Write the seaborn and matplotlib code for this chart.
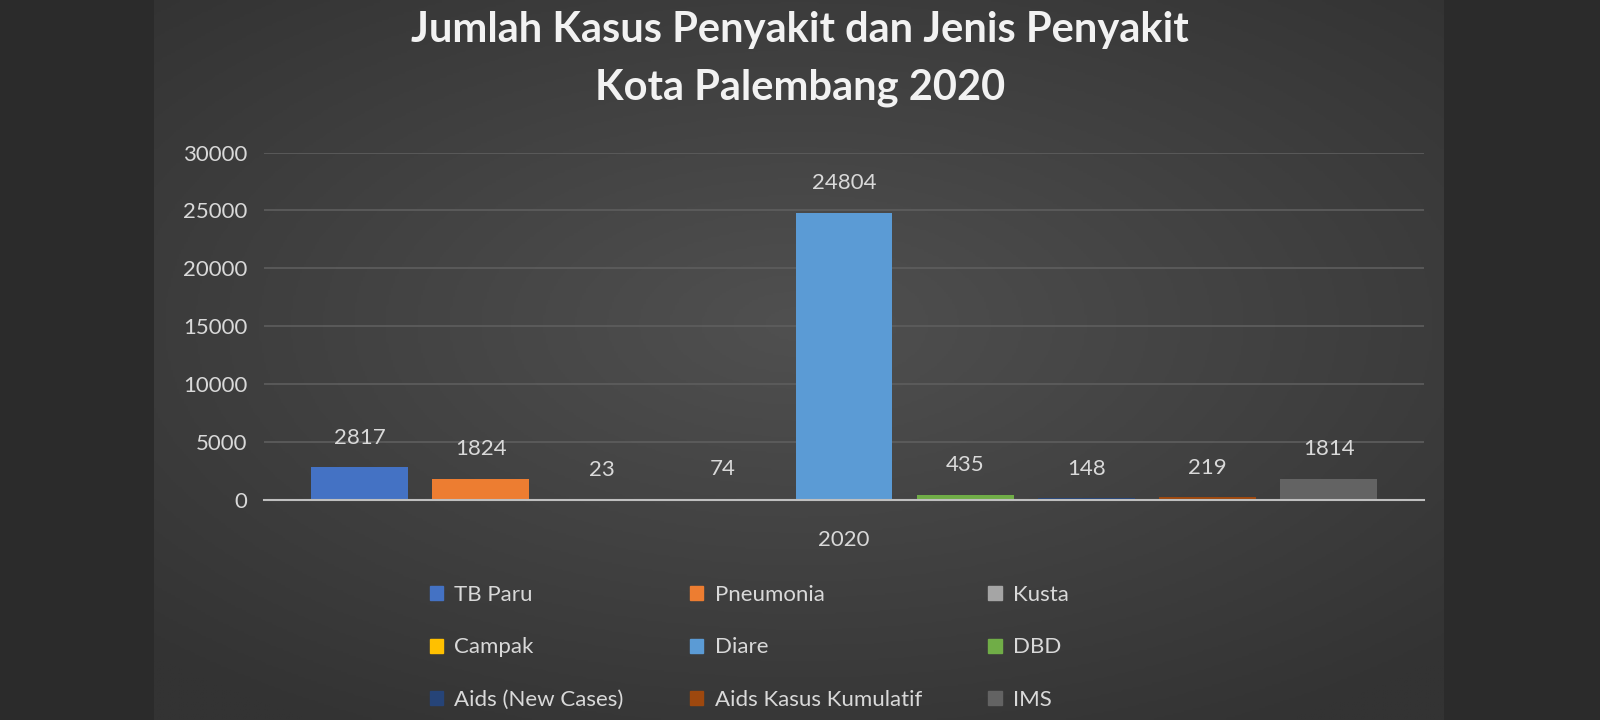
import numpy as np
import pandas as pd
import matplotlib.pyplot as plt
import seaborn as sns
from matplotlib.patches import Patch

penyakit = ['TB Paru', 'Pneumonia', 'Kusta', 'Campak', 'Diare', 'DBD',
            'Aids (New Cases)', 'Aids Kasus Kumulatif', 'IMS']
kasus = [2817, 1824, 23, 74, 24804, 435, 148, 219, 1814]
tahun = ['2020'] * len(penyakit)
warna = ['#4472C4', '#ED7D31', '#A5A5A5', '#FFC000', '#5B9BD5', '#70AD47',
         '#264478', '#9E480E', '#636363']

df = pd.DataFrame({'Tahun': tahun, 'Penyakit': penyakit, 'Kasus': kasus})

sns.set_theme(style='dark')
plt.rcParams['font.family'] = ['Lato', 'DejaVu Sans']

fig = plt.figure(figsize=(16, 7.2), dpi=100)
fig.patch.set_facecolor('#2b2b2b')

# background panel with radial gradient
bg = fig.add_axes([0.096, 0, 0.806, 1])
yy, xx = np.mgrid[-1:1:300j, -1:1:600j]
r = np.sqrt((xx / 1.1) ** 2 + ((yy + 0.1) / 1.0) ** 2)
bg.imshow(np.clip(r, 0, 1.3), cmap=sns.blend_palette(['#505050', '#333333'], as_cmap=True),
          aspect='auto', extent=[0, 1, 0, 1], vmin=0, vmax=1.3)
bg.axis('off')

ax = fig.add_axes([0.165, 0.306, 0.725, 0.482])
ax.set_facecolor('none')
sns.barplot(data=df, x='Tahun', y='Kasus', hue='Penyakit', palette=warna,
            width=0.94, gap=0.2, ax=ax, legend=False, saturation=1, linewidth=0)
for c in ax.containers:
    ax.bar_label(c, padding=14, color='#d9d9d9', fontsize=16)

ax.set_ylim(0, 30000)
ax.set_yticks(range(0, 30001, 5000))
ax.yaxis.grid(True, color='#5e5e5e', linewidth=1.2)
ax.xaxis.grid(False)
ax.set_axisbelow(True)
for s in ['top', 'right', 'left']:
    ax.spines[s].set_visible(False)
ax.spines['bottom'].set_color('#bfbfbf')
ax.spines['bottom'].set_linewidth(1.5)
ax.tick_params(colors='#d9d9d9', labelsize=16, length=0, pad=12)
ax.tick_params(axis='x', pad=22)
ax.set_xlabel('')
ax.set_ylabel('')

for y, t in [(0.958, 'Jumlah Kasus Penyakit dan Jenis Penyakit'),
             (0.878, 'Kota Palembang 2020')]:
    fig.text(0.5, y, t, ha='center', va='center', color='#f2f2f2',
             fontsize=30, fontweight='bold')

order = [0, 3, 6, 1, 4, 7, 2, 5, 8]
handles = [Patch(color=warna[i], label=penyakit[i]) for i in order]
fig.legend(handles=handles, ncol=3, loc='upper left',
           bbox_to_anchor=(0.256, 0.215), frameon=False, fontsize=16,
           labelcolor='#d9d9d9', handlelength=0.6, handleheight=0.6,
           handletextpad=0.5, columnspacing=3.0, labelspacing=1.45)

fig.savefig('out.png', dpi=100, facecolor=fig.get_facecolor())
